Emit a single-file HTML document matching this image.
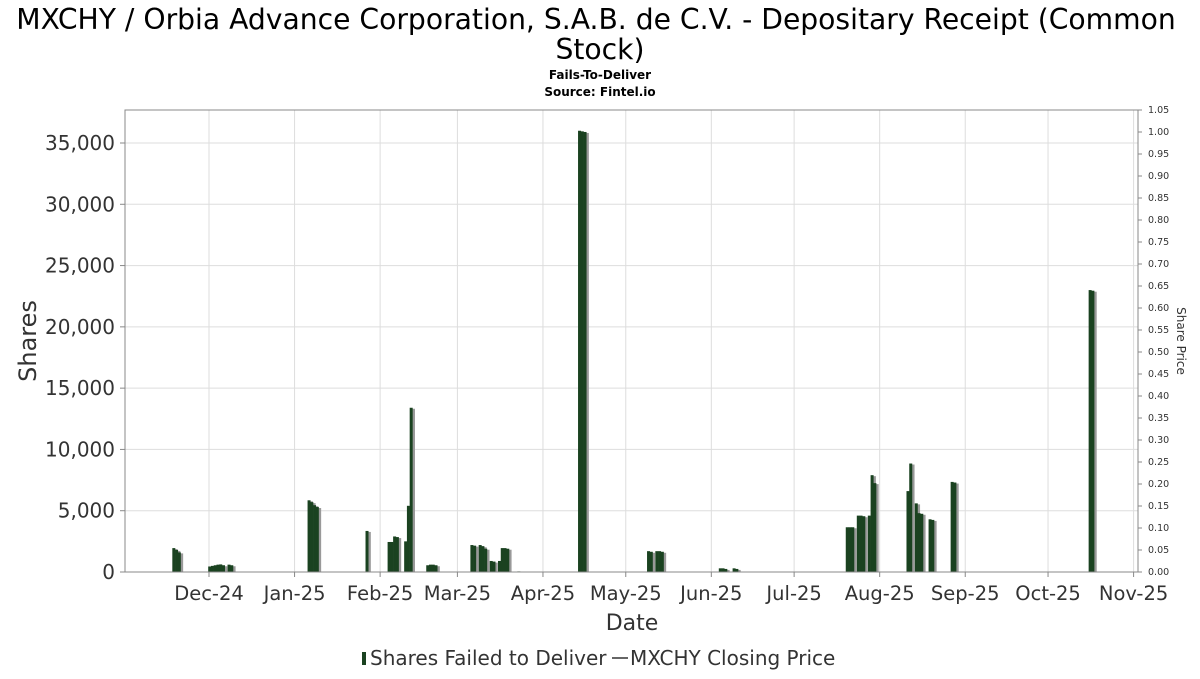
<!DOCTYPE html>
<html><head><meta charset="utf-8"><style>
body{margin:0;background:#fff;width:1200px;height:675px;overflow:hidden;font-family:"DejaVu Sans","Liberation Sans",sans-serif}
svg text{font-family:"DejaVu Sans","Liberation Sans",sans-serif}
</style></head><body>
<svg id="chart" width="1200" height="675" viewBox="0 0 1200 675" xmlns="http://www.w3.org/2000/svg">
<text x="596" y="29" font-size="28.2" text-anchor="middle" fill="#000">MXCHY / Orbia Advance Corporation, S.A.B. de C.V. - Depositary Receipt (Common</text>
<text x="600" y="59" font-size="28.2" text-anchor="middle" fill="#000">Stock)</text>
<text x="600" y="79" font-size="12" font-weight="bold" text-anchor="middle">Fails-To-Deliver</text>
<text x="600" y="96" font-size="12" font-weight="bold" text-anchor="middle">Source: Fintel.io</text>
<g id="grid"></g>
<g id="bars"></g>
<rect x="125" y="110" width="1013" height="462" fill="none" stroke="#888" stroke-width="1"/>
<g id="axes"></g>
<text transform="translate(36,341) rotate(-90)" font-size="24" text-anchor="middle" fill="#333">Shares</text>
<text transform="translate(1177,341) rotate(90)" font-size="12" text-anchor="middle" fill="#333">Share Price</text>
<text x="632" y="630" font-size="22" text-anchor="middle" fill="#333">Date</text>
<g>
<rect x="362" y="652" width="4" height="13" fill="#1a4220"/>
<text x="370" y="665" font-size="20" fill="#333">Shares Failed to Deliver</text>
<line x1="612" y1="658" x2="628" y2="658" stroke="#333" stroke-width="1.5"/>
<text x="630" y="665" font-size="20" fill="#333">MXCHY Closing Price</text>
</g>
</svg>
<script>
const dayIdx = [-13,-12,-11, 0,1,2,3,4,5,7,8, 36,37,38,39, 57, 65,66,67,68, 71,72,73, 79,80,81,82, 95,96,98,99,100,102,103,105,106,107,108,112, 134,135,136, 159,160,162,163,164, 185,186,187,190,191, 231,232,233,235,236,237,239,240,241, 253,254,256,257,258,261,262, 269,270, 319,320];
const shares = [1950,1800,1600, 450,500,550,600,620,550,600,550, 5850,5700,5450,5300, 3350, 2450,2450,2900,2850, 2500,5400,13400, 550,600,600,550, 2200,2150,2200,2100,1900,900,850,900,1950,1950,1900,50, 36000,35950,35900, 1700,1650,1700,1700,1650, 300,300,250,300,250, 3650,3650,3650,4600,4600,4550,4600,7900,7250, 6600,8850,5600,4800,4750,4300,4250, 7350,7300, 23000,22950];
const yTicks = [0,5000,10000,15000,20000,25000,30000,35000];
const y2Ticks = [];
for (let i=0;i<=21;i++) y2Ticks.push(i*0.05);
const monthLabels = ["Dec-24","Jan-25","Feb-25","Mar-25","Apr-25","May-25","Jun-25","Jul-25","Aug-25","Sep-25","Oct-25","Nov-25"];
const monthDays = [0,31,62,90,121,151,182,212,243,274,304,335];

const NS="http://www.w3.org/2000/svg";
const L=125,R=1138,T=110,B=572;
const xS = d => 209 + d*2.76;
const yS = v => B - v*(B-143)/35000;
const y2S = v => B - v*(B-T)/1.05;
function mk(tag,attrs,parent){const e=document.createElementNS(NS,tag);for(const k in attrs)e.setAttribute(k,attrs[k]);parent.appendChild(e);return e;}
const grid=document.getElementById('grid'), bars=document.getElementById('bars'), axes=document.getElementById('axes');
yTicks.forEach(v=>{
  const y=yS(v);
  const g=mk('line',{x1:L,x2:R,y1:y,y2:y,stroke:'#ddd','stroke-width':1},grid);
  
  
  const t=mk('text',{x:115,y:y+7,'font-size':20,'text-anchor':'end',fill:'#333'},axes);
  t.textContent=v.toLocaleString('en-US');
  
  
  mk('line',{x1:L-5,x2:L,y1:y,y2:y,stroke:'#888'},axes);
});
y2Ticks.forEach(v=>{
  const y=y2S(v);
  mk('line',{x1:R,x2:R+4,y1:y,y2:y,stroke:'#888'},axes);
  const t=mk('text',{x:1148,y:y+3,'font-size':9.5,fill:'#333'},axes);
  t.textContent=v.toFixed(2);
  
  
});
monthDays.forEach((d,i)=>{
  const x=xS(d);
  const g=mk('line',{x1:x,x2:x,y1:T,y2:B,stroke:'#ddd','stroke-width':1},grid);
  
  
  mk('line',{x1:x,x2:x,y1:B,y2:B+5,stroke:'#888'},axes);
  const t=mk('text',{x:x,y:600,'font-size':19.5,'text-anchor':'middle',fill:'#333'},axes);
  t.textContent=monthLabels[i];
  
  
});
dayIdx.forEach((d,i)=>{
  const x=xS(d), y=yS(shares[i]);
  const s=mk('rect',{x:x+1.5,y:y+1,width:3,height:B-y-1,fill:'#999'},bars);
  
  
  const b=mk('rect',{x:x-0.8,y:y,width:3,height:B-y,fill:'#1a4220'},bars);
  
  
});
</script>
</body></html>
